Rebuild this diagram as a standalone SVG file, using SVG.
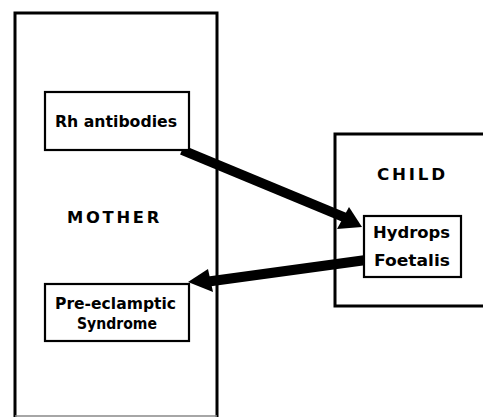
<svg xmlns="http://www.w3.org/2000/svg" width="483" height="417" viewBox="0 0 483 417">
<style>
.frame{fill:none;stroke:#000;stroke-width:3}
.box{fill:#fff;stroke:#000;stroke-width:2.2}
.t{font-family:"DejaVu Sans",sans-serif;font-weight:bold;font-size:16px;fill:#000}
.cap{font-size:15px;letter-spacing:2.5px}
.conn{stroke:#000;stroke-width:10;fill:none}
</style>
<rect width="483" height="417" fill="#fff"/>
<g id="mother">
<path class="frame" d="M15,417 V13 H217 V417"/>
<line x1="15" y1="416" x2="217" y2="416" stroke="#888" stroke-width="1.5"/>
<text class="t cap" x="67" y="223" textLength="95" lengthAdjust="spacingAndGlyphs">MOTHER</text>
</g>
<g id="child">
<path class="frame" d="M490,134 H335 V306 H490"/>
<text class="t cap" x="377" y="180" textLength="71" lengthAdjust="spacingAndGlyphs">CHILD</text>
</g>
<g id="connectors">
<line class="conn" x1="182" y1="150" x2="346" y2="218"/>
<polygon points="362,227 349,207 337,229"/>
<line class="conn" x1="366" y1="260" x2="205" y2="282"/>
<polygon points="188,282 208,269 213,292"/>
</g>
<g id="rh">
<rect class="box" x="45" y="92" width="144" height="58"/>
<text class="t" x="55" y="127" textLength="122" lengthAdjust="spacingAndGlyphs">Rh antibodies</text>
</g>
<g id="pre">
<rect class="box" x="45" y="284" width="144" height="57"/>
<text class="t" x="55" y="309" textLength="121" lengthAdjust="spacingAndGlyphs">Pre-eclamptic</text>
<text class="t" x="77" y="329" textLength="80" lengthAdjust="spacingAndGlyphs">Syndrome</text>
</g>
<g id="hydrops">
<rect class="box" x="364" y="216" width="97" height="61"/>
<text class="t" x="373" y="238" textLength="77" lengthAdjust="spacingAndGlyphs">Hydrops</text>
<text class="t" x="374" y="266" textLength="76" lengthAdjust="spacingAndGlyphs">Foetalis</text>
</g>
</svg>
